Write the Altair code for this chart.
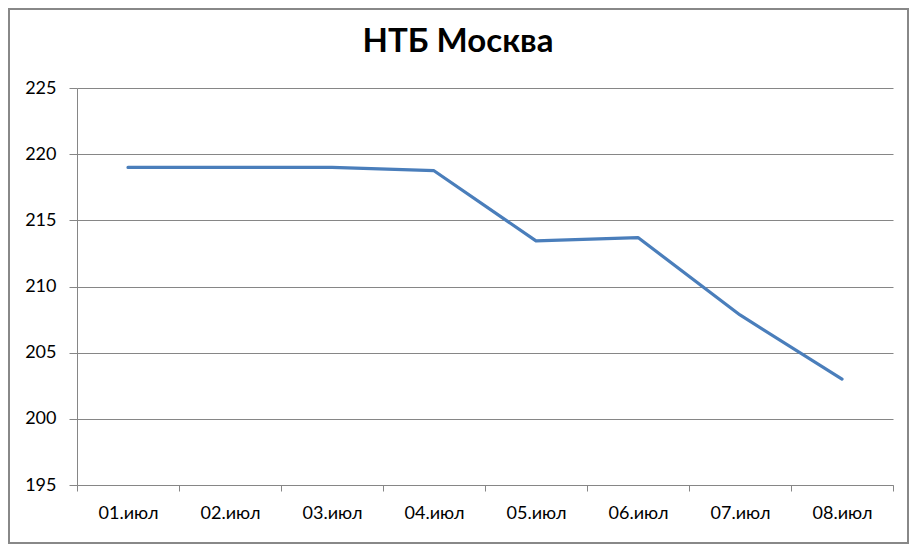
import altair as alt
import pandas as pd

title_text = "НТБ Москва"
days = ["01.июл", "02.июл", "03.июл", "04.июл", "05.июл", "06.июл", "07.июл", "08.июл"]
values = [219.0, 219.0, 219.0, 218.75, 213.45, 213.7, 207.85, 203.0]

df = pd.DataFrame({"day": days, "value": values})

W, H = 816, 397
PL, PT, PR, PB = 69, 80, 16, 59

x = alt.X(
    "day:O",
    sort=days,
    title=None,
    scale=alt.Scale(type="band", paddingInner=0, paddingOuter=0),
    bandPosition=0.5,
    axis=alt.Axis(
        labelAngle=0, tickBand="extent", grid=False, domainColor="#868686",
        tickColor="#868686", tickSize=6, labelFont="Lato", labelFontSize=18,
        labelColor="#000000", labelPadding=13, domainWidth=1, tickWidth=1,
    ),
)
y = alt.Y(
    "value:Q",
    title=None,
    scale=alt.Scale(domain=[195, 225], nice=False, zero=False),
    axis=alt.Axis(
        values=[195, 200, 205, 210, 215, 220, 225], grid=True,
        gridColor="#868686", gridWidth=1, domainColor="#868686",
        tickColor="#868686", tickSize=8, labelFont="Lato", labelFontSize=18,
        labelColor="#000000", labelPadding=13, domainWidth=1, tickWidth=1,
    ),
)

line = alt.Chart(df).mark_line(
    color="#4A7EBB", strokeWidth=3.2, strokeCap="round", strokeJoin="round"
).encode(x=x, y=y)

border = alt.Chart(pd.DataFrame({"a": [0]})).mark_rect(
    fill=None, stroke="#888888", strokeWidth=2
).encode(
    x=alt.value(-PL + 1), x2=alt.value(W + PR - 1),
    y=alt.value(-PT + 1), y2=alt.value(H + PB - 1),
)

title = alt.Chart(pd.DataFrame({"t": [title_text]})).mark_text(
    font="Lato", fontSize=33, fontWeight="bold", color="#000000",
    align="center", baseline="alphabetic",
).encode(
    text="t:N",
    x=alt.value(W / 2 - 27),
    y=alt.value(-PT + 44),
)

chart = alt.layer(border, title, line).properties(
    width=W,
    height=H,
    autosize=alt.AutoSizeParams(type="none"),
    padding={"left": PL, "top": PT, "right": PR, "bottom": PB},
    background="white",
).configure_view(stroke=None)

chart.save("out.html", embed_options={"renderer": "svg", "actions": False})
